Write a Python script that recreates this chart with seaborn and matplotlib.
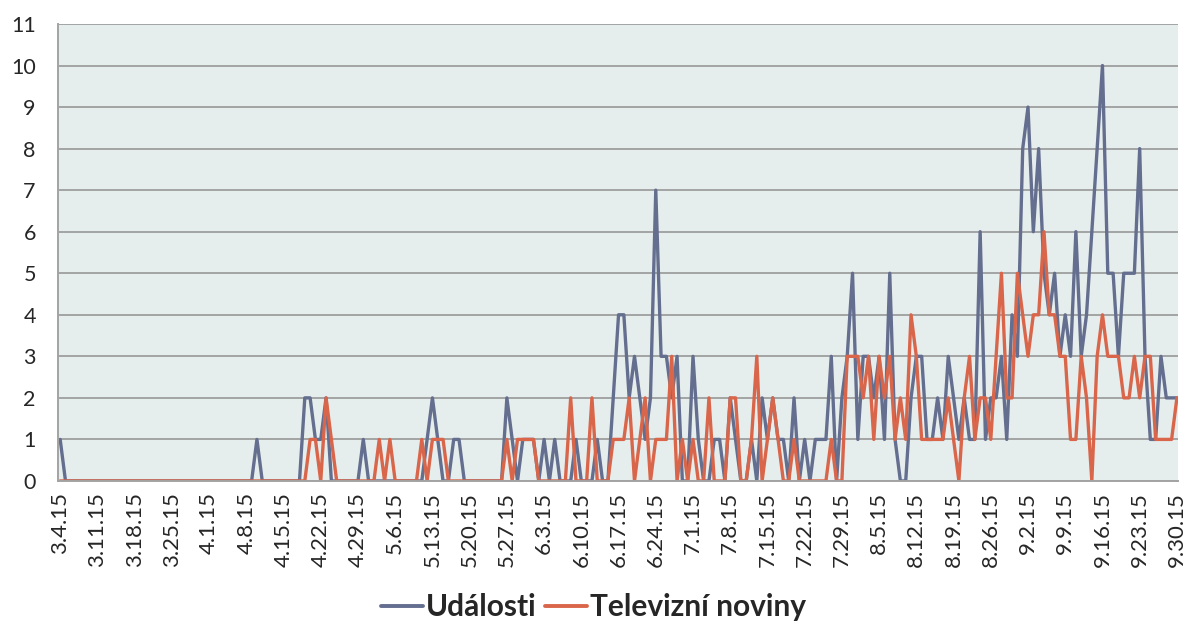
import pandas as pd
import seaborn as sns
import matplotlib.pyplot as plt

# denni pocty od 4.3.2015 do 30.9.2015 (211 dni), po tydnech
udalosti = [
    1, 0, 0, 0, 0, 0, 0,
    0, 0, 0, 0, 0, 0, 0,
    0, 0, 0, 0, 0, 0, 0,
    0, 0, 0, 0, 0, 0, 0,
    0, 0, 0, 0, 0, 0, 0,
    0, 0, 1, 0, 0, 0, 0,
    0, 0, 0, 0, 2, 2, 1,
    1, 2, 0, 0, 0, 0, 0,
    0, 1, 0, 0, 0, 0, 0,
    0, 0, 0, 0, 0, 0, 1,
    2, 1, 0, 0, 1, 1, 0,
    0, 0, 0, 0, 0, 0, 0,
    2, 1, 0, 1, 1, 1, 0,
    1, 0, 1, 0, 0, 0, 1,
    0, 0, 0, 1, 0, 0, 2,
    4, 4, 2, 3, 2, 1, 2,
    7, 3, 3, 2, 3, 0, 0,
    3, 1, 0, 0, 1, 1, 0,
    2, 1, 0, 0, 1, 0, 2,
    1, 2, 1, 1, 0, 2, 0,
    1, 0, 1, 1, 1, 3, 0,
    2, 3, 5, 1, 3, 3, 2,
    3, 1, 5, 1, 0, 0, 2,
    3, 3, 1, 1, 2, 1, 3,
    2, 1, 2, 1, 1, 6, 1,
    2, 2, 3, 1, 4, 3, 8,
    9, 6, 8, 5, 4, 5, 3,
    4, 3, 6, 3, 4, 6, 8,
    10, 5, 5, 3, 5, 5, 5,
    8, 3, 1, 1, 3, 2, 2,
    2,
]

televizni_noviny = [
    0, 0, 0, 0, 0, 0, 0,
    0, 0, 0, 0, 0, 0, 0,
    0, 0, 0, 0, 0, 0, 0,
    0, 0, 0, 0, 0, 0, 0,
    0, 0, 0, 0, 0, 0, 0,
    0, 0, 0, 0, 0, 0, 0,
    0, 0, 0, 0, 0, 1, 1,
    0, 2, 1, 0, 0, 0, 0,
    0, 0, 0, 0, 1, 0, 1,
    0, 0, 0, 0, 0, 1, 0,
    1, 1, 1, 0, 0, 0, 0,
    0, 0, 0, 0, 0, 0, 0,
    1, 0, 1, 1, 1, 1, 0,
    0, 0, 0, 0, 0, 2, 0,
    0, 0, 2, 0, 0, 0, 1,
    1, 1, 2, 0, 1, 2, 0,
    1, 1, 1, 3, 0, 1, 0,
    1, 0, 0, 2, 0, 0, 0,
    2, 2, 0, 0, 1, 3, 0,
    1, 2, 1, 0, 0, 1, 0,
    0, 0, 0, 0, 0, 1, 0,
    0, 3, 3, 3, 2, 3, 1,
    3, 2, 3, 1, 2, 1, 4,
    3, 1, 1, 1, 1, 1, 2,
    1, 0, 2, 3, 1, 2, 2,
    1, 3, 5, 2, 2, 5, 4,
    3, 4, 4, 6, 4, 4, 3,
    3, 1, 1, 3, 2, 0, 3,
    4, 3, 3, 3, 2, 2, 3,
    2, 3, 3, 1, 1, 1, 1,
    2,
]

tick_labels = [
    "3.4.15", "3.11.15", "3.18.15", "3.25.15", "4.1.15", "4.8.15", "4.15.15",
    "4.22.15", "4.29.15", "5.6.15", "5.13.15", "5.20.15", "5.27.15", "6.3.15",
    "6.10.15", "6.17.15", "6.24.15", "7.1.15", "7.8.15", "7.15.15", "7.22.15",
    "7.29.15", "8.5.15", "8.12.15", "8.19.15", "8.26.15", "9.2.15", "9.9.15",
    "9.16.15", "9.23.15", "9.30.15",
]

series_names = ["Události", "Televizní noviny"]
colors = ["#646E8F", "#D9664A"]

den = list(range(len(udalosti)))
df = pd.concat([
    pd.DataFrame({"den": den, "pocet": udalosti, "zdroj": series_names[0]}),
    pd.DataFrame({"den": den, "pocet": televizni_noviny, "zdroj": series_names[1]}),
])

sns.set_style("white")
plt.rcParams["font.family"] = ["Lato", "DejaVu Sans"]

fig = plt.figure(figsize=(11.87, 6.23), dpi=100)
ax = fig.add_axes([0.0489, 0.228, 0.9435, 0.7335])
ax.set_facecolor("#E6EEED")

sns.lineplot(data=df, x="den", y="pocet", hue="zdroj", palette=colors,
             linewidth=2.4, ax=ax, legend=False)

ax.set_xlim(-0.4, 210.2)
ax.set_ylim(0, 11)
ax.set_yticks(range(0, 12))
ax.set_xticks(range(0, 211, 7))
ax.set_xticklabels(tick_labels, rotation=90, fontsize=16)
ax.tick_params(axis="y", labelsize=15.5, length=0, pad=16)
ax.tick_params(axis="x", length=0, pad=8)
ax.grid(axis="y", color="#A3A3A3", linewidth=1.4)
ax.set_axisbelow(True)
ax.set_xlabel("")
ax.set_ylabel("")
for s in ["top", "right"]:
    ax.spines[s].set_visible(False)
for s in ["left", "bottom"]:
    ax.spines[s].set_color("#A3A3A3")
    ax.spines[s].set_linewidth(1.4)

handles = [plt.Line2D([], [], color=c, linewidth=2.8) for c in colors]
fig.legend(handles, series_names, loc="lower center", bbox_to_anchor=(0.5, -0.04),
           ncol=2, frameon=False, handlelength=1.4, handletextpad=0.1,
           columnspacing=0.3, prop={"size": 21.5, "weight": "bold"})

fig.savefig("out.png", dpi=100)
